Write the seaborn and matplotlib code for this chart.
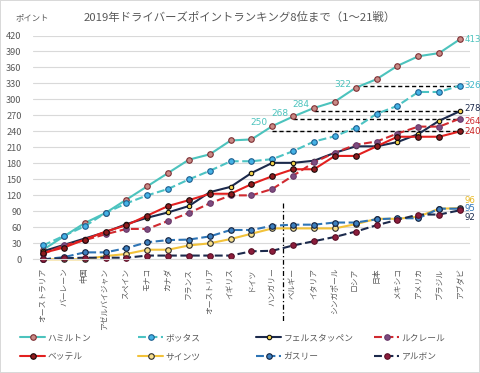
import numpy as np
import pandas as pd
import matplotlib
matplotlib.use("Agg")
import matplotlib.pyplot as plt
import seaborn as sns
from matplotlib.lines import Line2D

# ---------------- data ----------------
races = ["オーストラリア", "バーレーン", "中国", "アゼルバイジャン", "スペイン", "モナコ",
         "カナダ", "フランス", "オーストリア", "イギリス", "ドイツ", "ハンガリー", "ベルギー",
         "イタリア", "シンガポール", "ロシア", "日本", "メキシコ", "アメリカ", "ブラジル", "アブダビ"]
hamilton = [18, 43, 68, 87, 112, 137, 162, 187, 197, 223, 225, 250, 268, 284, 296, 322, 338, 363, 381, 387, 413]
bottas = [26, 44, 62, 87, 105, 120, 132, 150, 166, 184, 184, 188, 203, 221, 231, 247, 273, 288, 314, 314, 326]
verstappen = [15, 27, 39, 51, 66, 78, 88, 100, 126, 136, 162, 181, 181, 185, 200, 212, 212, 220, 235, 260, 278]
leclerc = [10, 26, 36, 47, 57, 57, 72, 87, 105, 120, 120, 132, 157, 182, 200, 215, 221, 236, 249, 249, 264]
vettel = [12, 22, 37, 52, 64, 82, 100, 111, 123, 123, 141, 156, 169, 169, 194, 194, 212, 230, 230, 230, 240]
sainz = [0, 0, 0, 6, 10, 18, 18, 26, 30, 38, 48, 58, 58, 58, 58, 66, 76, 76, 80, 95, 96]
gasly = [0, 4, 13, 13, 21, 32, 36, 37, 43, 55, 55, 63, 65, 65, 69, 69, 75, 77, 77, 95, 95]
albon = [0, 2, 3, 3, 3, 7, 7, 7, 7, 7, 15, 16, 26, 34, 42, 52, 64, 74, 84, 84, 92]

drivers = ["ハミルトン", "ボッタス", "フェルスタッペン", "ルクレール",
           "ベッテル", "サインツ", "ガスリー", "アルボン"]
series = [hamilton, bottas, verstappen, leclerc, vettel, sainz, gasly, albon]

hamilton_marked = [11, 12, 13, 15]          # Hamilton labels / reference line starts
reference_targets = [vettel, leclerc, verstappen, bottas]
yticks = list(range(0, 421, 30))
title = "2019年ドライバーズポイントランキング8位まで（1～21戦）"
ylabel = "ポイント"

# ---------------- styles ----------------
DASH = (0, (3.8, 1.7))
LW = 1.5
MS = 4.0
styles = {
    "ハミルトン": dict(color="#4CC3BD", ls="-", mfc="#C98A86", mec="#7E2F33", ms=MS),
    "ボッタス": dict(color="#4CC3C3", ls=DASH, mfc="#45B2E6", mec="#1D5F8F", ms=MS),
    "フェルスタッペン": dict(color="#1C2A4C", ls="-", mfc="#F3D34A", mec="#111111", ms=3.2),
    "ルクレール": dict(color="#D02A30", ls=DASH, mfc="#7D4C80", mec="#6A3A6A", ms=MS),
    "ベッテル": dict(color="#E2201F", ls="-", mfc="#8E1B1E", mec="#1a0a0a", ms=MS),
    "サインツ": dict(color="#F2C23A", ls="-", mfc="#F6DE8C", mec="#2a2a2a", ms=MS),
    "ガスリー": dict(color="#2E74B5", ls=DASH, mfc="#3C7FBF", mec="#12223F", ms=MS),
    "アルボン": dict(color="#1C2A4C", ls=DASH, mfc="#8C1D3C", mec="#5A1026", ms=MS),
}
end_label_colors = {
    "ハミルトン": "#4CC3BD", "ボッタス": "#3FB6C8", "フェルスタッペン": "#1C2A4C",
    "ルクレール": "#D02A30", "ベッテル": "#C81E1E", "サインツ": "#E8B820",
    "ガスリー": "#2E74B5", "アルボン": "#1C2A4C",
}
end_label_dy = {"フェルスタッペン": 2.0, "ルクレール": -1.8,
                "サインツ": 5.8, "ガスリー": 0.3, "アルボン": -5.2}

sns.set_theme(style="white")
plt.rcParams["font.family"] = ["Noto Sans CJK JP", "DejaVu Sans"]
TXT = "#595959"
NUMFONT = ["DejaVu Sans"]

W, H = 480, 373
fig = plt.figure(figsize=(W / 100, H / 100), dpi=100)
fig.patch.set_facecolor("white")
fig.patch.set_edgecolor("#D9D9D9")
fig.patch.set_linewidth(1.2)

ax_l, ax_r, ax_t, ax_b = 32.6, 470.4, 35.5, 259.3
ax = fig.add_axes([ax_l / W, 1 - ax_b / H, (ax_r - ax_l) / W, (ax_b - ax_t) / H])

x = np.arange(len(races))
handles = {}
for name, vals in zip(drivers, series):
    st = styles[name]
    sns.lineplot(x=x, y=vals, ax=ax, color=st["color"], linestyle=st["ls"], lw=LW,
                 marker="o", markersize=st["ms"], markerfacecolor=st["mfc"],
                 markeredgecolor=st["mec"], markeredgewidth=0.8, sort=False,
                 errorbar=None, legend=False, clip_on=False)
    handles[name] = Line2D([], [], color=st["color"], linestyle=st["ls"], lw=LW,
                           marker="o", markersize=st["ms"], markerfacecolor=st["mfc"],
                           markeredgecolor=st["mec"], markeredgewidth=0.8)

# reference dashed lines
for start, target in zip(hamilton_marked, reference_targets):
    ax.hlines(target[-1], start, len(races) - 1, colors="black", linestyles=(0, (3, 2)),
              lw=1.0, zorder=1)

# summer-break vertical line
ax.plot([11.5, 11.5], [105, -120], color="black", lw=0.9, linestyle=(0, (4, 2, 1, 2)),
        clip_on=False, zorder=1)

# Hamilton intermediate labels
for i in hamilton_marked:
    ax.annotate(str(hamilton[i]), (i, hamilton[i]), xytext=(-3.5, 2.5), textcoords="offset points",
                ha="right", va="center", fontsize=6.5, color="#4CC3BD", family=NUMFONT)

# end labels
for name, vals in zip(drivers, series):
    ax.annotate(str(vals[-1]), (len(races) - 1, vals[-1]), xytext=(3.2, end_label_dy.get(name, 0)),
                textcoords="offset points", ha="left", va="center", fontsize=6.2,
                color=end_label_colors[name], annotation_clip=False, family=NUMFONT)

ax.set_xlim(-0.5, len(races) - 0.5)
ax.set_ylim(0, 420)
ax.set_yticks(yticks)
ax.set_yticklabels([str(v) for v in yticks], fontsize=6.6, color=TXT)
ax.set_xticks(x)
ax.set_xticklabels(races, rotation=90, fontsize=5.6, color=TXT)
ax.tick_params(axis="y", length=0, pad=8)
ax.tick_params(axis="x", length=0, pad=6)
ax.grid(axis="y", color="#D9D9D9", lw=0.8)
ax.grid(axis="x", visible=False)
for sp in ["top", "right", "left"]:
    ax.spines[sp].set_visible(False)
ax.spines["bottom"].set_color("#D9D9D9")
ax.spines["bottom"].set_linewidth(0.8)
ax.set_xlabel("")
ax.set_ylabel("")
ax.set_axisbelow(True)

fig.text(240 / W, 1 - 17 / H, title, ha="center", va="center", fontsize=8.2, color=TXT)
fig.text(16 / W, 1 - 18 / H, ylabel, ha="left", va="center", fontsize=6.0, color=TXT)

# legend: four columns placed like the reference
col_x = [20, 138, 256, 374]
cols = [["ハミルトン", "ベッテル"], ["ボッタス", "サインツ"], ["フェルスタッペン", "ガスリー"], ["ルクレール", "アルボン"]]
for cx, names in zip(col_x, cols):
    lg = fig.legend([handles[n] for n in names], names, loc="upper left",
                    bbox_to_anchor=(cx / W, 1 - 333.5 / H), frameon=False, borderpad=0,
                    borderaxespad=0, handlelength=2.9, handletextpad=0.25, labelspacing=1.1,
                    fontsize=6.3)
    for t in lg.get_texts():
        t.set_color(TXT)

fig.savefig("out.png", dpi=100, facecolor="white", edgecolor="#D9D9D9")
